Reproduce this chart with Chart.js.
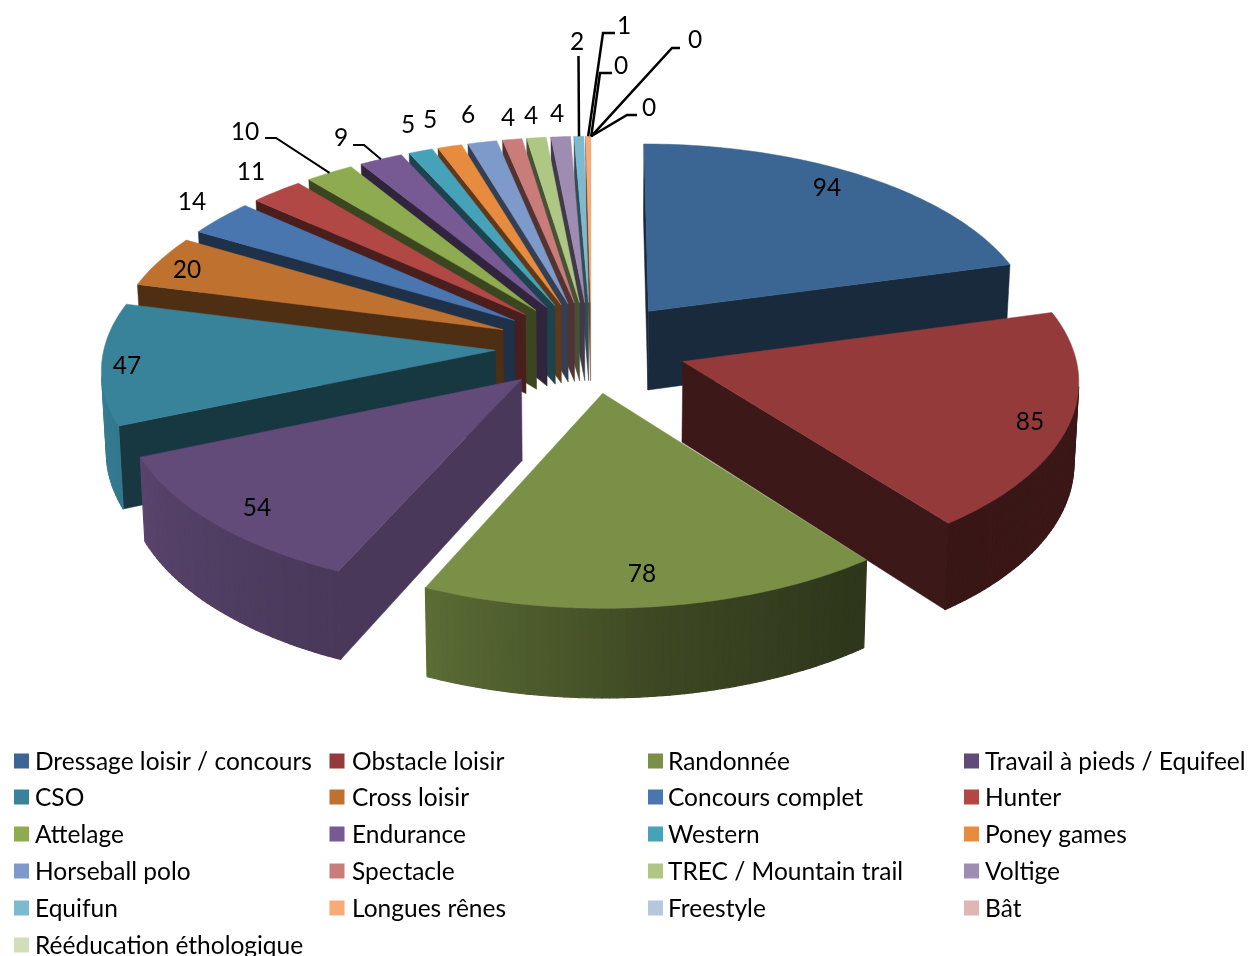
<!DOCTYPE html>
<html lang="fr">
<head>
<meta charset="utf-8">
<title>Disciplines</title>
<script src="https://cdn.jsdelivr.net/npm/chart.js@4"></script>
<style>html,body{margin:0;padding:0;background:#fff}canvas{display:block}</style>
</head>
<body>
<canvas id="c" width="1253" height="956"></canvas>
<script>
const categories = ["Dressage loisir / concours","Obstacle loisir","Randonnée","Travail à pieds / Equifeel","CSO","Cross loisir","Concours complet","Hunter","Attelage","Endurance","Western","Poney games","Horseball polo","Spectacle","TREC / Mountain trail","Voltige","Equifun","Longues rênes","Freestyle","Bât","Rééducation éthologique"];
const values = [94,85,78,54,47,20,14,11,10,9,5,5,6,4,4,4,2,1,0,0,0];
const colors = ["#3b6593","#953a3a","#7a9046","#624b78","#38839a","#bf7230","#4a76b0","#b14846","#8eab50","#775a94","#46a2b8","#e78b3f","#7e9aca","#ca7c7b","#aec783","#9e8cb3","#7cbad0","#f8ab77","#b7c6df","#e0b6b5","#d0dfba"];

// Layout of the labels (centre of each value label) and the leader elbows
const labelPos = [[827,187],[1030,421],[642,573],[257,507],[127,365],[187,269],[192,201],[251,171],[245,131],[341,137],[408,124],[430,119],[468,114],[508,117],[531,115],[557,113],[577,41],[624,25],[621,65],[695,39],[649,107]];
const leaders = {8:[[265,138],[276,138]],9:[[353,145],[364,145]],16:[[578.5,56]],17:[[615,33],[603,33]],18:[[612,73],[600,73]],19:[[680,48],[672,48]],20:[[637,115],[627,115]]};
const legendSwatchX = [14,329.5,648,964];
const legendTextX = [35,352,668,985];
const legendRows = [761,797,834,871,908,945];

// Projection of the pie plane
const CX=591.2, CY=347, RX=391, RY=187.8, PERSP=0.0868, DEPTH=80, EXPLODE_U=0.2455, EXPLODE_V=0.243, BOTTOM_X=0.99;
const FONT = '24.5px Lato, "Open Sans", sans-serif';

function project(u,v,lower){
  const s = 1/(1-PERSP*v);
  let x = RX*u*s, y = RY*v*s;
  if(lower){ x*=BOTTOM_X; y+=DEPTH*s; }
  return [CX+x, CY+y];
}
function interp(table,d){
  d=((d%360)+360)%360;
  for(let i=1;i<table.length;i++){
    if(d<=table[i][0]){
      const [a,sa]=table[i-1],[b,sb]=table[i];
      return sa+(sb-sa)*(d-a)/((b-a)||1);
    }
  }
  return table[table.length-1][1];
}
const outerShade=[[0,.4],[110,.4],[145,.38],[173,.5],[204,.75],[225,.82],[250,.92],[270,.98],[360,1]];
const radialShade=[[0,.75],[125,.75],[145,.42],[360,.4]];
function shade(hex,f){
  const n=parseInt(hex.slice(1),16);
  return `rgb(${Math.round((n>>16&255)*f)},${Math.round((n>>8&255)*f)},${Math.round((n&255)*f)})`;
}
function poly(ctx,pts,fill,lw){
  ctx.beginPath();
  pts.forEach((p,i)=>i?ctx.lineTo(p[0],p[1]):ctx.moveTo(p[0],p[1]));
  ctx.closePath();
  ctx.fillStyle=fill; ctx.fill();
  ctx.strokeStyle=fill; ctx.lineWidth=lw; ctx.stroke();
}
function area(p){
  let a=0; for(let i=0;i<p.length;i++){const q=p[(i+1)%p.length];a+=p[i][0]*q[1]-q[0]*p[i][1];}
  return a/2;
}
function apexOf(arc){
  const mid=(arc.startAngle+arc.endAngle)/2;
  return [EXPLODE_U*Math.cos(mid),EXPLODE_V*Math.sin(mid)];
}
function rimPoint(arc,a){
  const o=apexOf(arc);
  return [o[0]+Math.cos(a), o[1]+Math.sin(a)];
}

const pie3d = {
  id:'pie3d',
  beforeDatasetDraw(chart){
    const ctx=chart.ctx, arcs=chart.getDatasetMeta(0).data;
    const order=arcs.map((a,i)=>i).filter(i=>values[i]>0)
      .sort((p,q)=>Math.sin((arcs[p].startAngle+arcs[p].endAngle)/2)-Math.sin((arcs[q].startAngle+arcs[q].endAngle)/2));
    ctx.save();
    ctx.lineJoin='round';
    for(const i of order){
      const arc=arcs[i], base=colors[i];
      const apex=apexOf(arc);
      const deg=a=>(a+Math.PI/2)*180/Math.PI;
      // radial walls
      [[arc.startAngle,-90],[arc.endAngle,90]].forEach(([a,n])=>{
        const r=rimPoint(arc,a);
        const q=[project(apex[0],apex[1]),project(r[0],r[1]),project(r[0],r[1],true),project(apex[0],apex[1],true)];
        if((n<0?-area(q):area(q))>0) poly(ctx,q,shade(base,interp(radialShade,deg(a)+n)),.5);
      });
      // curved wall
      const steps=Math.max(2,Math.ceil((arc.endAngle-arc.startAngle)/(Math.PI/180)));
      for(let k=0;k<steps;k++){
        const a0=arc.startAngle+(arc.endAngle-arc.startAngle)*k/steps;
        const a1=arc.startAngle+(arc.endAngle-arc.startAngle)*(k+1)/steps;
        const r0=rimPoint(arc,a0), r1=rimPoint(arc,a1);
        const q=[project(r0[0],r0[1]),project(r1[0],r1[1]),project(r1[0],r1[1],true),project(r0[0],r0[1],true)];
        if(area(q)<0) poly(ctx,q,shade(base,interp(outerShade,deg((a0+a1)/2))),1.2);
      }
      // top face
      const top=[project(apex[0],apex[1])];
      for(let k=0;k<=steps;k++){
        const r=rimPoint(arc,arc.startAngle+(arc.endAngle-arc.startAngle)*k/steps);
        top.push(project(r[0],r[1]));
      }
      poly(ctx,top,base,.5);
    }
    // leader lines
    ctx.strokeStyle='#000'; ctx.lineJoin='miter';
    Object.keys(leaders).forEach(key=>{
      const i=+key, arc=arcs[i], mid=(arc.startAngle+arc.endAngle)/2;
      const end=project(...rimPoint(arc,mid));
      ctx.lineWidth=i>=16?2.5:2;
      ctx.beginPath();
      leaders[key].forEach((p,k)=>k?ctx.lineTo(p[0],p[1]):ctx.moveTo(p[0],p[1]));
      ctx.lineTo(end[0],end[1]);
      ctx.stroke();
    });
    // value labels
    ctx.font=FONT; ctx.fillStyle='#000'; ctx.textAlign='center'; ctx.textBaseline='middle';
    values.forEach((val,i)=>ctx.fillText(String(val),labelPos[i][0],labelPos[i][1]+1));
    // legend
    ctx.textAlign='left';
    categories.forEach((name,i)=>{
      const y=legendRows[Math.floor(i/4)];
      ctx.fillStyle=colors[i]; ctx.fillRect(legendSwatchX[i%4],y-7.5,15,15);
      ctx.fillStyle='#000'; ctx.fillText(name,legendTextX[i%4],y+1);
    });
    ctx.restore();
    return false;
  }
};

new Chart(document.getElementById('c'),{
  type:'pie',
  data:{labels:categories,datasets:[{data:values,backgroundColor:colors,borderWidth:0}]},
  options:{
    responsive:false,animation:false,
    events:[],
    plugins:{legend:{display:false},tooltip:{enabled:false}}
  },
  plugins:[pie3d,{id:'bg',beforeDraw(c){c.ctx.save();c.ctx.fillStyle='#fff';c.ctx.fillRect(0,0,c.width,c.height);c.ctx.restore();}}]
});
</script>
</body>
</html>
